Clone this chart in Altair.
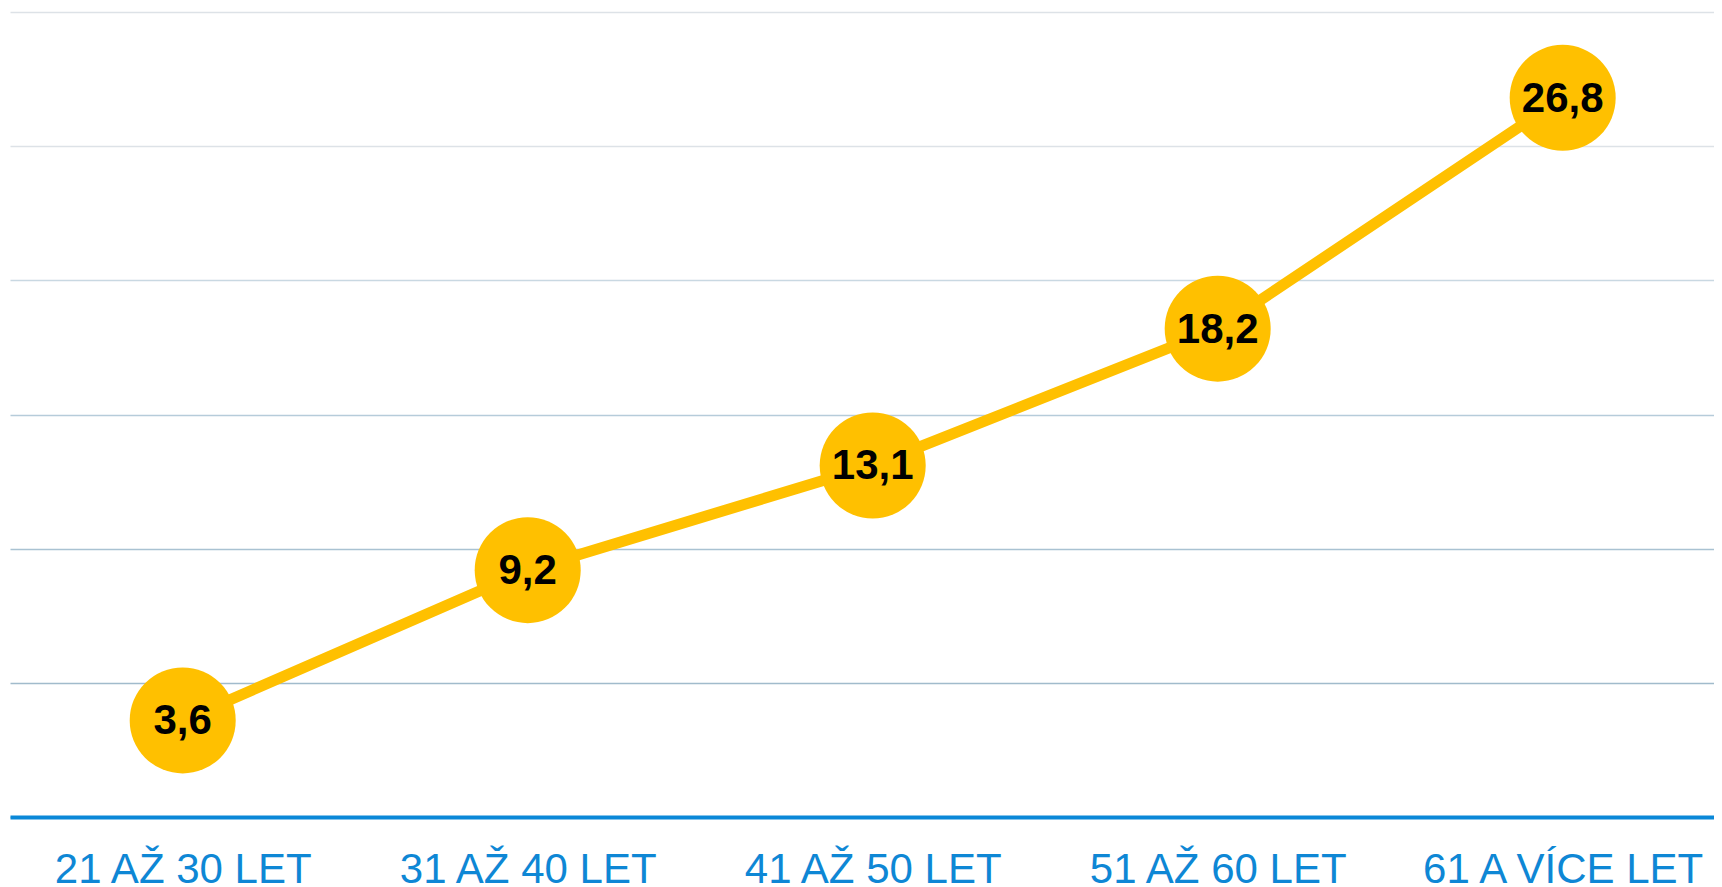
import altair as alt
import pandas as pd

categories = ["21 AŽ 30 LET", "31 AŽ 40 LET", "41 AŽ 50 LET", "51 AŽ 60 LET", "61 A VÍCE LET"]
values = [3.6, 9.2, 13.1, 18.2, 26.8]
y_ticks = [0, 5, 10, 15, 20, 25, 30]

df = pd.DataFrame({"cat": categories, "val": values})

GOLD = "#ffc000"

x = alt.X(
    "cat:N",
    sort=categories,
    title=None,
    scale=alt.Scale(type="point", padding=0.4696, align=0.533),
    axis=alt.Axis(
        labelAngle=0,
        labelFont="Liberation Sans",
        labelFontSize=42,
        labelColor="#0e87d5",
        labelPadding=32,
        labelLimit=0,
        ticks=False,
        domainColor="#0a88d8",
        domainWidth=4,
        grid=False,
        labelOverlap=False,
    ),
)
y = alt.Y(
    "val:Q",
    title=None,
    scale=alt.Scale(domain=[0, 30], nice=False, zero=True),
    axis=alt.Axis(
        values=y_ticks,
        labels=False,
        ticks=False,
        domain=False,
        grid=True,
        gridWidth=1.5,
        gridColor={
            "condition": [
                {"test": "datum.value >= 25", "value": "#dde2e7"},
                {"test": "datum.value >= 20", "value": "#c9d8e2"},
                {"test": "datum.value >= 15", "value": "#b6ccda"},
                {"test": "datum.value >= 10", "value": "#a9c2d2"},
            ],
            "value": "#a1bbcc",
        },
    ),
)

base = alt.Chart(df).encode(x=x, y=y)

line = base.mark_line(color=GOLD, strokeWidth=11)
dots = base.mark_circle(size=11236, color=GOLD, opacity=1)
labels = base.transform_calculate(
    lbl="replace(format(datum.val, '.1f'), '.', ',')"
).mark_text(
    font="Liberation Sans",
    fontWeight="bold",
    fontSize=42,
    color="black",
    baseline="middle",
    dy=1,
).encode(text="lbl:N")

chart = (
    alt.layer(line, dots, labels)
    .properties(
        width=1704,
        height=805,
        padding={"left": 2, "top": 4, "right": 0, "bottom": 0},
    )
    .configure_view(stroke=None)
)

chart.save("out.html", embed_options={"renderer": "svg", "actions": False})
